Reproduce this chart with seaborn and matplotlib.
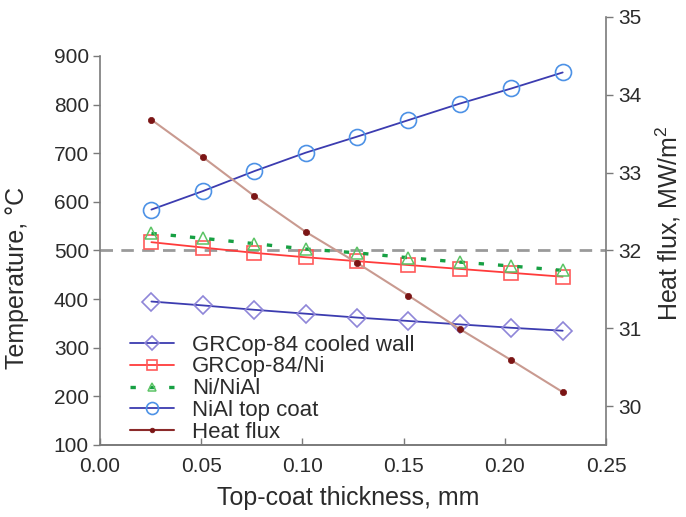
import matplotlib
matplotlib.use("Agg")
import matplotlib.pyplot as plt
import seaborn as sns

# top-coat thickness, mm (0.001 in steps)
thickness = [0.0254, 0.0508, 0.0762, 0.1016, 0.1270, 0.1524, 0.1778, 0.2032, 0.2286]

# temperatures, degC
grcop_wall = [395, 387, 378, 370, 362, 355, 348, 341, 335]
grcop_ni = [517, 506, 495, 486, 478, 470, 462, 454, 446]
ni_nial = [535, 525, 514, 503, 495, 485, 476, 468, 459]
nial_top = [584, 622, 663, 701, 734, 768, 802, 833, 866]

# heat flux, MW/m2
heat_flux = [33.68, 33.20, 32.70, 32.24, 31.84, 31.42, 30.99, 30.59, 30.18]

temp_ticks = [100, 200, 300, 400, 500, 600, 700, 800, 900]
flux_ticks = [30, 31, 32, 33, 34, 35]
x_ticks = [0.00, 0.05, 0.10, 0.15, 0.20, 0.25]

sns.set_theme(style="ticks")
plt.rcParams["font.family"] = ["Liberation Sans", "DejaVu Sans"]
plt.rcParams["mathtext.fontset"] = "custom"
plt.rcParams["mathtext.rm"] = "Liberation Sans"

text_color = "#2b2b2b"
spine_color = "#7a7a7a"

fig = plt.figure(figsize=(6.86, 5.17), dpi=100)
ax = fig.add_axes([100 / 686, 1 - 445 / 517, 506 / 686, 428 / 517])
ax2 = ax.twinx()

ax.axhline(500, color="#9a9a9a", lw=2.0, ls=(0, (4.5, 3)), zorder=1)

sns.lineplot(x=thickness, y=grcop_wall, ax=ax, color="#3c3cb0", lw=1.3,
             marker="D", markersize=9.5, markerfacecolor="none",
             markeredgecolor="#8f86d8", markeredgewidth=1.2,
             label="GRCop-84 cooled wall")
sns.lineplot(x=thickness, y=grcop_ni, ax=ax, color="#ff3b3b", lw=1.3,
             marker="s", markersize=10.5, markerfacecolor="none",
             markeredgecolor="#ff5a5a", markeredgewidth=1.2,
             label="GRCop-84/Ni")
sns.lineplot(x=thickness, y=ni_nial, ax=ax, color="#17a043", lw=2.4,
             ls=(0, (1.6, 4.2)), marker="^", markersize=8,
             markerfacecolor="none", markeredgecolor="#5cc466",
             markeredgewidth=1.1, label="Ni/NiAl")
sns.lineplot(x=thickness, y=nial_top, ax=ax, color="#3c3cb0", lw=1.3,
             marker="o", markersize=11.5, markerfacecolor="none",
             markeredgecolor="#4d92e6", markeredgewidth=1.2,
             label="NiAl top coat")
sns.lineplot(x=thickness, y=heat_flux, ax=ax2, color="#c99a90", lw=1.5,
             marker="o", markersize=4.5, markerfacecolor="#7b1515",
             markeredgecolor="#7b1515", markeredgewidth=0.5,
             label="Heat flux")

ax.set_xlim(0, 0.25)
ax.set_ylim(100, 980)
ax2.set_ylim(29.5, 35)
ax.set_xticks(x_ticks)
ax.set_xticklabels([f"{v:.2f}" for v in x_ticks])
ax.set_yticks(temp_ticks)
ax2.set_yticks(flux_ticks)

for a in (ax, ax2):
    a.spines["top"].set_visible(False)
    for s in a.spines.values():
        s.set_color(spine_color)
        s.set_linewidth(1.2)
    a.tick_params(colors=spine_color, labelcolor=text_color, labelsize=15,
                  width=1.0, length=5)
ax.spines["left"].set_bounds(100, 900)
ax.spines["right"].set_visible(False)
ax2.spines["left"].set_visible(False)
ax.tick_params(axis="x", direction="in", pad=9)
ax.tick_params(axis="y", direction="out", pad=3)
ax2.tick_params(axis="y", direction="out", pad=4)

ax.set_xlabel("Top-coat thickness, mm", fontsize=18, color=text_color)
ax.set_ylabel("Temperature, °C", fontsize=18, color=text_color)
ax2.set_ylabel("Heat flux, MW/m$^2$", fontsize=18, color=text_color)
ax.xaxis.set_label_coords(0.49, -0.096)
ax.yaxis.set_label_coords(-0.14, 0.39)
ax2.yaxis.set_label_coords(1.094, 0.519)

h1, l1 = ax.get_legend_handles_labels()
h2, l2 = ax2.get_legend_handles_labels()
ax.get_legend().remove()
ax2.get_legend().remove()
leg = ax2.legend(h1 + h2, l1 + l2, loc="upper left",
                 bbox_to_anchor=(0.059, 0.258), frameon=False, fontsize=16,
                 borderpad=0, borderaxespad=0, labelspacing=0.04,
                 handlelength=2.0, handletextpad=0.8, markerscale=0.75)
for t in leg.get_texts():
    t.set_color(text_color)
leg.legend_handles[-1].set_color("#8b2a2a")

fig.savefig("out.png", dpi=100)
